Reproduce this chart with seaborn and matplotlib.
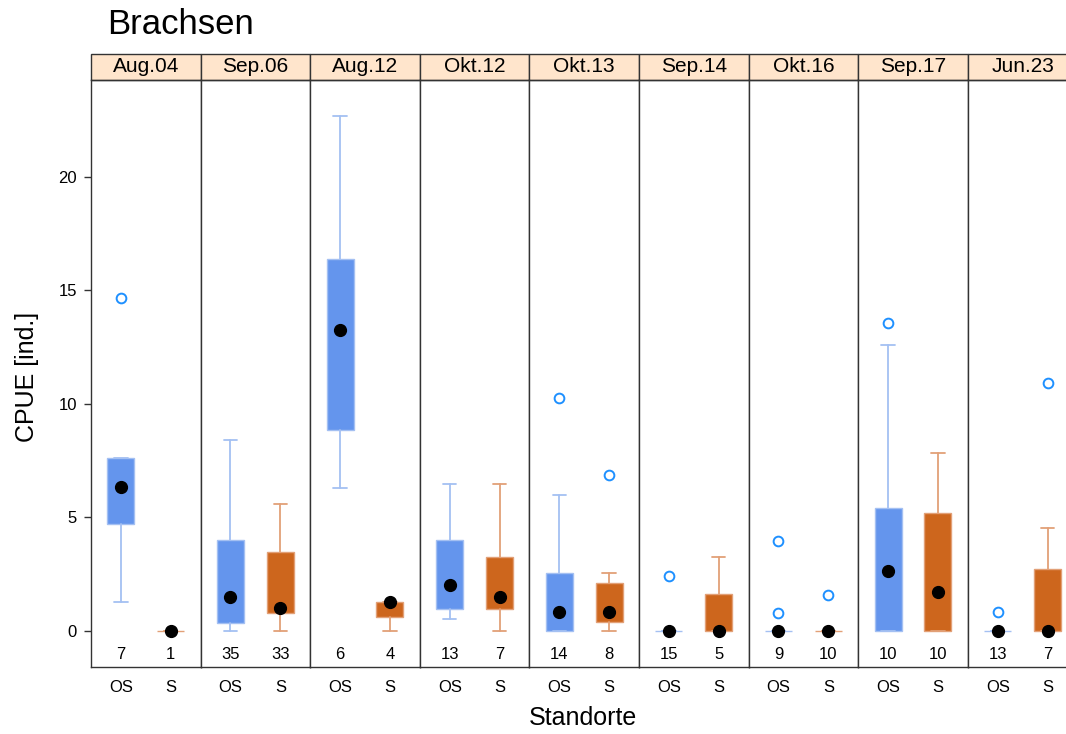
import numpy as np
import pandas as pd
import matplotlib
matplotlib.use("Agg")
import matplotlib.pyplot as plt
import seaborn as sns
from matplotlib.patches import Rectangle

# Daten
dates = ["Aug.04", "Sep.06", "Aug.12", "Okt.12", "Okt.13", "Sep.14", "Okt.16", "Sep.17", "Jun.23"]
sites = ["OS", "S"]

whislo_os = [1.28, 0, 6.3, 0.51, 0, 0, 0, 0, 0]
q1_os = [4.7, 0.34, 8.85, 0.98, 0, 0, 0, 0, 0]
med_os = [6.32, 1.51, 13.25, 2.01, 0.85, 0, 0, 2.66, 0]
q3_os = [7.6, 4.0, 16.4, 4.0, 2.54, 0, 0, 5.41, 0]
whishi_os = [7.6, 8.4, 22.7, 6.48, 5.98, 0, 0, 12.6, 0]
fliers_os = [[14.67], [], [], [], [10.26], [2.44], [3.97, 0.78], [13.56], [0.82]]
n_os = [7, 35, 6, 13, 14, 15, 9, 10, 13]

whislo_s = [0, 0, 0, 0, 0, 0, 0, 0, 0]
q1_s = [0, 0.81, 0.63, 0.98, 0.40, 0, 0, 0, 0]
med_s = [0, 1.0, 1.26, 1.51, 0.85, 0, 0, 1.70, 0]
q3_s = [0, 3.46, 1.29, 3.26, 2.13, 1.64, 0, 5.18, 2.74]
whishi_s = [0, 5.6, 1.29, 6.48, 2.57, 3.25, 0, 7.85, 4.54]
fliers_s = [[], [], [], [], [6.87], [], [1.57], [], [10.94]]
n_s = [1, 33, 4, 7, 8, 5, 10, 10, 7]

sns.set_style("white")
plt.rcParams['font.family'] = ['Liberation Sans', 'DejaVu Sans']
plt.rcParams['text.color'] = 'black'
plt.rcParams['xtick.color'] = 'black'
plt.rcParams['ytick.color'] = 'black'

box_cols = {"OS": "#6495ED", "S": "#CD661D"}
whisk_cols = {"OS": "#A4C0F2", "S": "#E2A077"}
flier_col = "#1E90FF"

fig = plt.figure(figsize=(10.66, 7.34), dpi=100)

W, H = 1066, 734
left_px, pw = 91, 109.6
top_px, bot_px = 80, 667
strip_h = 26

for i, d in enumerate(dates):
    ax = fig.add_axes([(left_px + i * pw) / W, (H - bot_px) / H, pw / W, (bot_px - top_px) / H])
    stats = {
        "OS": dict(whislo=whislo_os[i], q1=q1_os[i], med=med_os[i], q3=q3_os[i],
                   whishi=whishi_os[i], fliers=fliers_os[i], mean=med_os[i]),
        "S": dict(whislo=whislo_s[i], q1=q1_s[i], med=med_s[i], q3=q3_s[i],
                  whishi=whishi_s[i], fliers=fliers_s[i], mean=med_s[i]),
    }
    counts = {"OS": n_os[i], "S": n_s[i]}
    for j, s in enumerate(sites):
        ax.bxp([stats[s]], positions=[j], widths=0.54, patch_artist=True,
               showmeans=True, showcaps=True,
               boxprops=dict(facecolor=box_cols[s], edgecolor=whisk_cols[s], linewidth=1),
               whiskerprops=dict(color=whisk_cols[s], linewidth=1.3),
               capprops=dict(color=whisk_cols[s], linewidth=1.3),
               medianprops=dict(linestyle="none"),
               meanprops=dict(marker="o", markerfacecolor="black", markeredgecolor="black",
                              markersize=8.5),
               flierprops=dict(marker="o", markerfacecolor="none", markeredgecolor=flier_col,
                               markersize=7, markeredgewidth=1.4),
               manage_ticks=False)
        ax.text(j, -1.05, str(counts[s]), ha="center", va="center", fontsize=12)
    ax.set_xlim(-0.6, 1.6)
    ax.set_ylim(-1.59, 24.27)
    ax.set_xticks([0, 1])
    ax.set_xticklabels(sites, fontsize=12)
    ax.tick_params(axis="x", length=0, pad=9)
    for sp in ax.spines.values():
        sp.set_color("#333333")
        sp.set_linewidth(1.0)
    if i == 0:
        ax.set_yticks([0, 5, 10, 15, 20])
        ax.tick_params(axis="y", length=5, width=1, color="#333333", labelsize=12, pad=5, left=True)
    else:
        ax.set_yticks([])
    # strip
    ax.add_patch(Rectangle((0, 1), 1, strip_h / (bot_px - top_px), transform=ax.transAxes,
                           facecolor="#FFE5CC", edgecolor="#333333", linewidth=1.0, clip_on=False))
    ax.text(0.5, 1 + strip_h / 2 / (bot_px - top_px), d, transform=ax.transAxes,
            ha="center", va="center", fontsize=15)

fig.text(107 / W, 1 - 25 / H, "Brachsen", fontsize=25, ha="left", va="center")
fig.text(27 / W, 1 - 377 / H, "CPUE [ind.]", fontsize=18, rotation=90, ha="center", va="center")
fig.text(583 / W, 1 - 718 / H, "Standorte", fontsize=18, ha="center", va="center")

fig.savefig("out.png", dpi=100)
